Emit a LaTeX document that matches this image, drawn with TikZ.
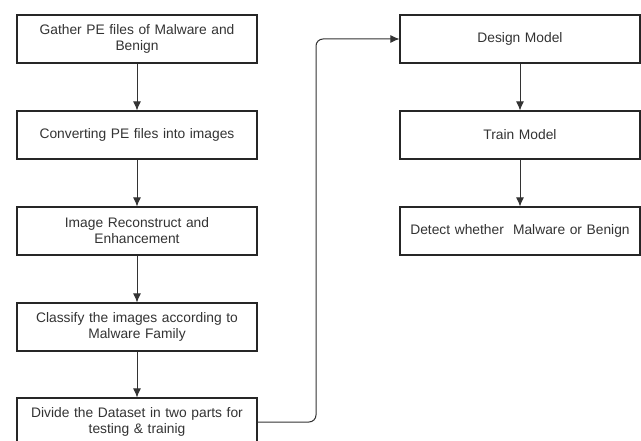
\documentclass[tikz,border=0pt]{standalone}
\usepackage{fontspec}
\setmainfont{Liberation Sans}
\usetikzlibrary{arrows.meta}
\begin{document}
\begin{tikzpicture}[x=1pt,y=-1pt,
  stepbox/.style={draw=black!85,line width=1.1pt,minimum width=240pt,minimum height=48pt,
    align=center,text=black!80,font=\fontsize{13.8}{16}\selectfont,inner sep=0pt,text width=236pt},
  conn/.style={draw=black!80,line width=1pt,-{Latex[length=9pt,width=8pt]}}]
\useasboundingbox (0,0) rectangle (641,441);
\clip (0,0) rectangle (641,441);
\fill[white] (0,0) rectangle (641,441);
\node[stepbox] (b1) at (137,39) {Gather PE files of Malware and\\Benign};
\node[stepbox] (b2) at (137,135) {Converting PE files into images};
\node[stepbox] (b3) at (137,231) {Image Reconstruct and\\Enhancement};
\node[stepbox] (b4) at (137,327) {Classify the images according to\\Malware Family};
\node[stepbox] (b5) at (137,422) {Divide the Dataset in two parts for\\testing \& trainig};
\node[stepbox] (r1) at (520,39) {Design Model};
\node[stepbox] (r2) at (520,135) {Train Model};
\node[stepbox] (r3) at (520,231) {Detect whether\ \ Malware or Benign};
\draw[conn] (b1) -- (b2);
\draw[conn] (b2) -- (b3);
\draw[conn] (b3) -- (b4);
\draw[conn] (b4) -- (b5);
\draw[conn] (r1) -- (r2);
\draw[conn] (r2) -- (r3);
\draw[conn,rounded corners=7pt] (b5.east) -- (316,422) -- (316,39) -- (r1.west);
\end{tikzpicture}
\end{document}
